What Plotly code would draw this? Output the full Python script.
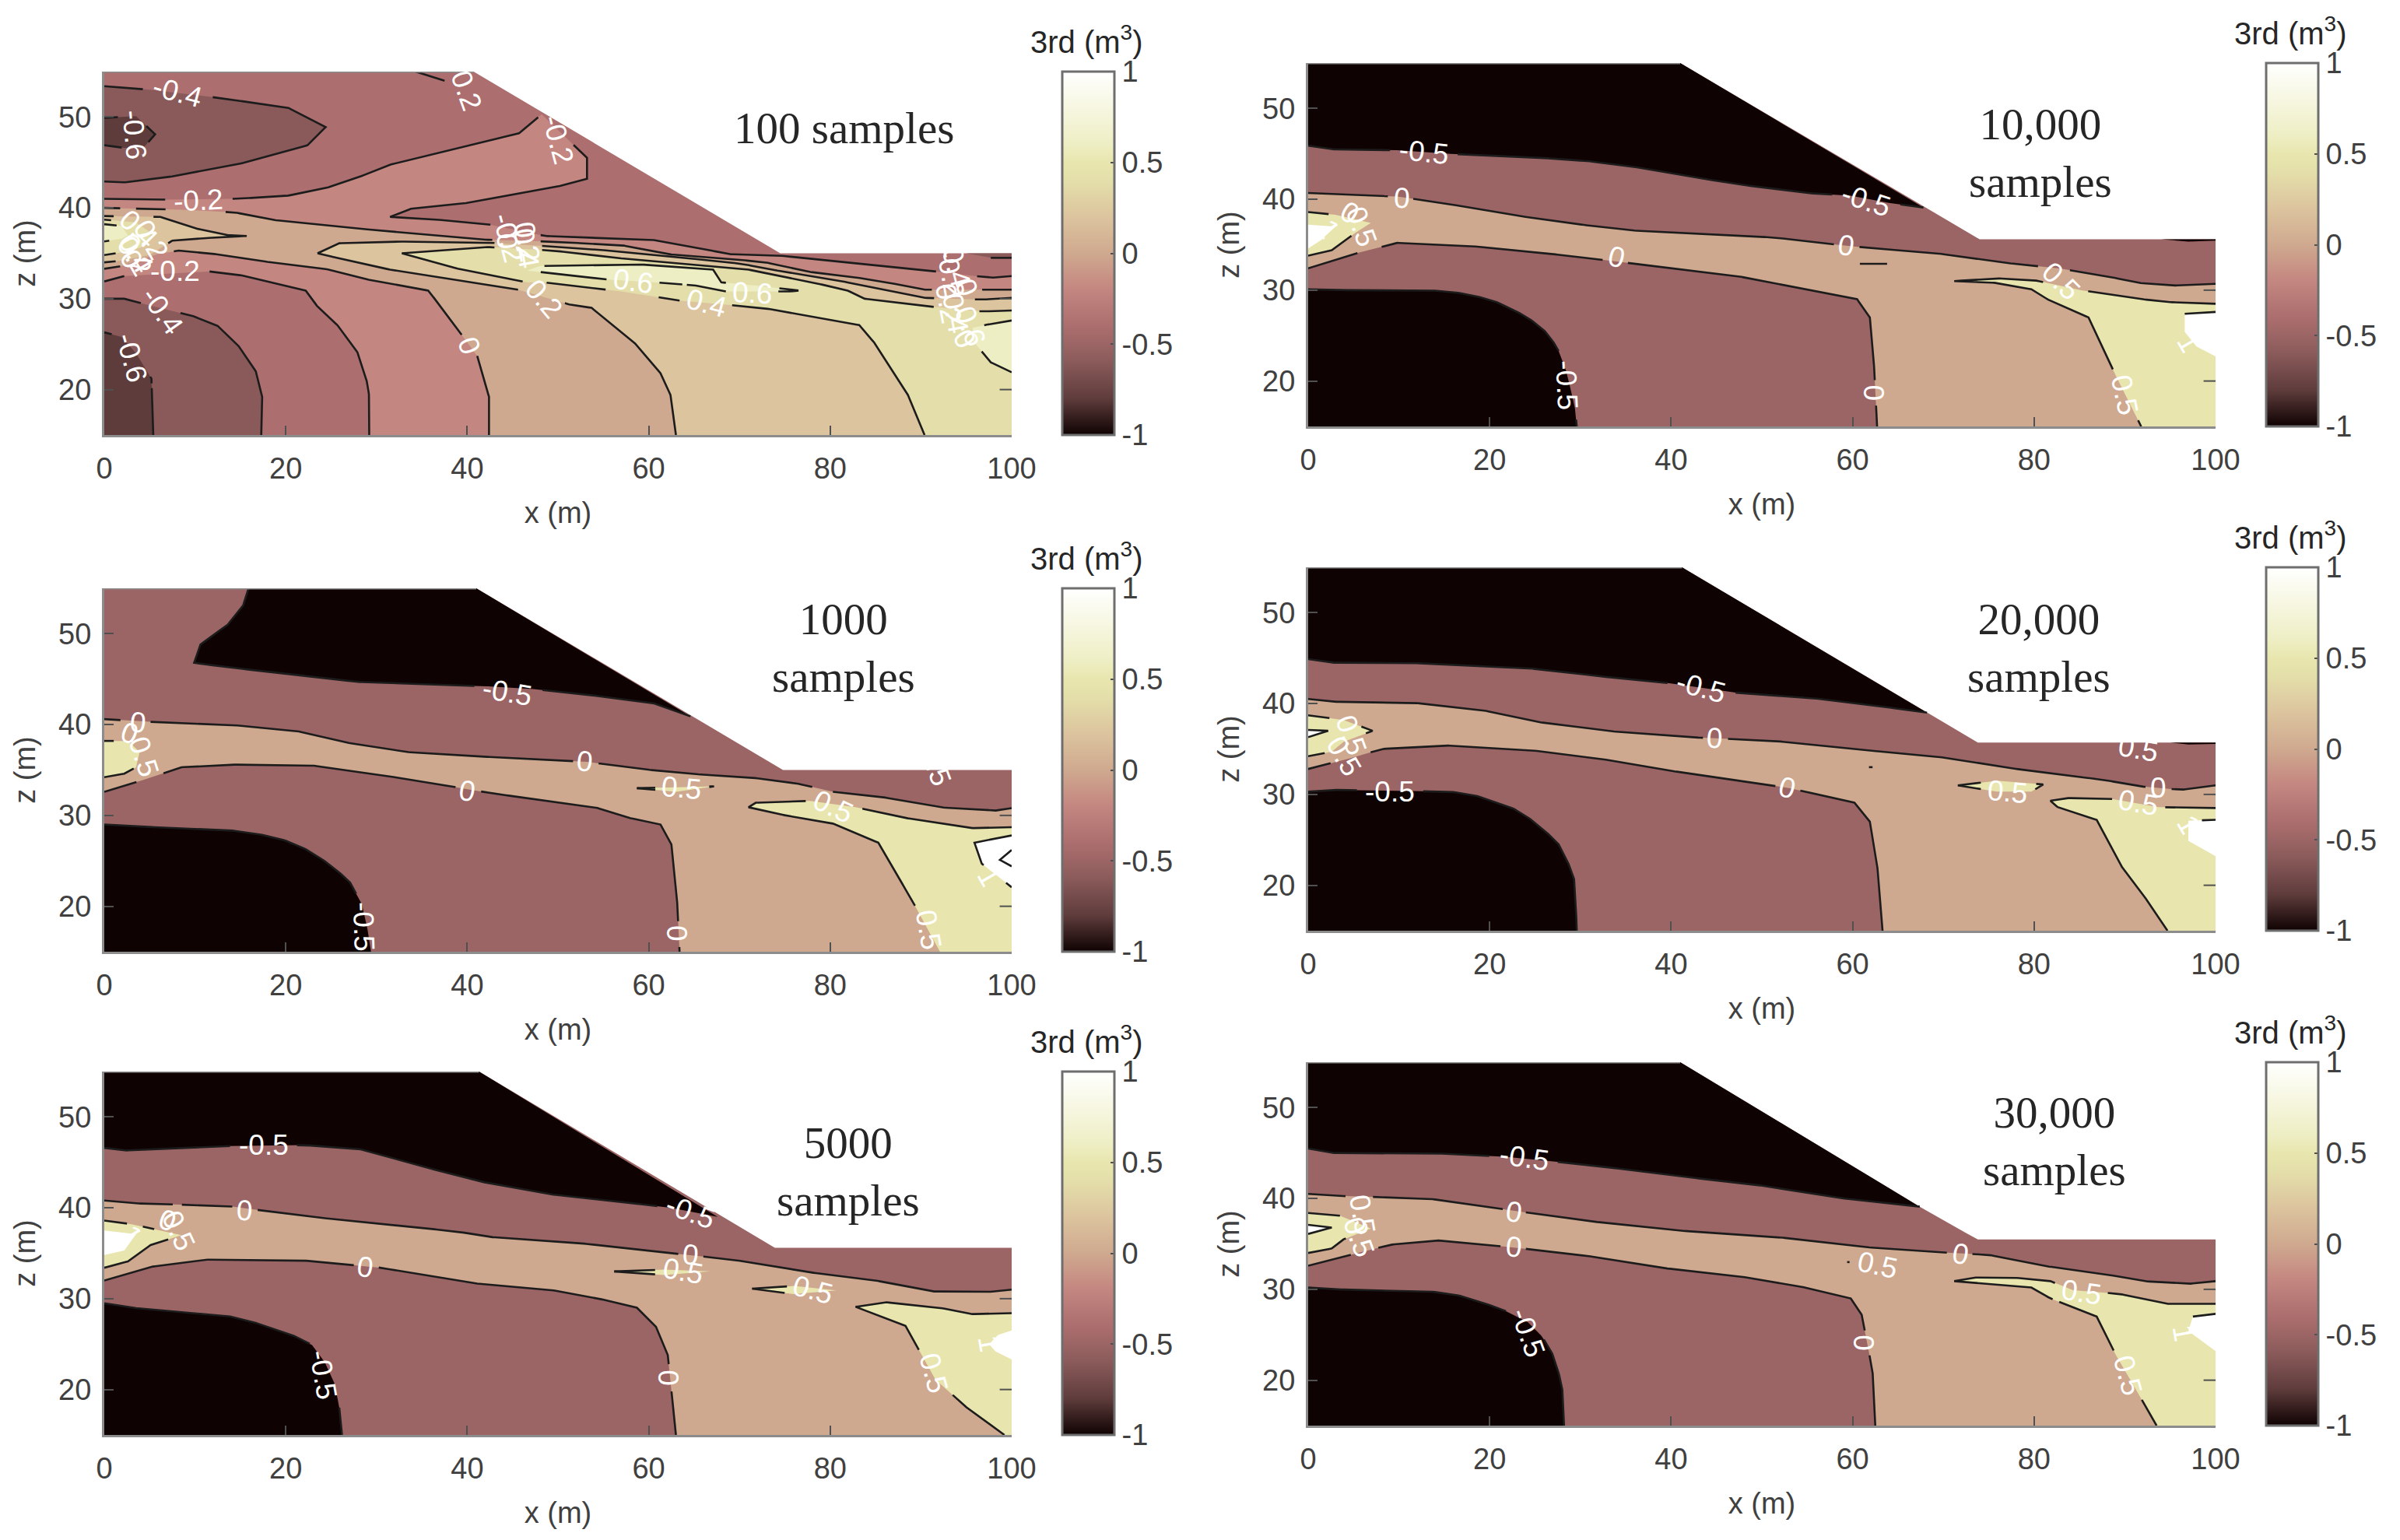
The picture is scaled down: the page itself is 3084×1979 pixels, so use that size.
import plotly.graph_objects as go
import math

# ---------- colour bar (levels -> colours) ----------
CBAR_LEVELS = [-1, -0.8, -0.6, -0.5, -0.4, -0.2, 0, 0.2, 0.4, 0.5, 0.6, 1]
CBAR_COLORS = ["#0f0202", "#5f3c3c", "#8a5a5a", "#9c6565", "#ac6e6e", "#c48680",
               "#cfa98f", "#dcc49e", "#e4dfaa", "#e8e6ae", "#eeeec4", "#ffffff"]
CBAR_TICKS = [-1, -0.5, 0, 0.5, 1]
CBAR_TICKTEXT = ["-1", "-0.5", "0", "0.5", "1"]
X_TICKS = [0, 20, 40, 60, 80, 100]
Z_TICKS = [20, 30, 40, 50]
Z_TICKS_RIGHT = [20, 30]

# ---------- panel 1: 100 samples (contours every 0.2) ----------
P1_DOMAIN = [(0, 55), (40.7, 55), (74.5, 35), (100, 35), (100, 15), (0, 15)]
P1_TOPDARK = [(0, 53.4), (5, 53), (12.7, 52.1), (20.3, 51), (24.4, 48.9), (22.4, 46.9), (16.1, 45.1), (8.5, 43.6), (2.6, 42.8), (0, 42.9)]
P1_TOPDARKER = [(0, 49.9), (3.5, 50.1), (5.6, 48.1), (4.3, 46.6), (2.2, 46.6), (0, 46.9)]
P1_SHORT = [(34.3, 55), (37.5, 54)]
P1_CORNER = [(97.7, 34.5), (100, 34.5)]
P1_M02_UP = [(0, 41), (6.2, 40.9), (14.4, 41), (20, 41.3), (24.2, 42.1), (27.6, 43.2), (31.3, 44.7), (38.9, 46.6), (45.7, 48.2), (48.2, 50.3)]
P1_M02_MID = [(53.2, 45.5), (53.2, 43.2), (50.7, 42.5), (40.6, 40.6), (33.8, 39.9), (31.5, 39), (35.6, 38.8), (42.3, 38.2), (48.6, 36.9), (60.3, 36.5), (65.5, 35.6), (68.8, 34.9), (73.9, 34.8), (80.7, 34.1), (89.9, 33.2), (97.7, 32.3), (100, 32.5)]
P1_M02_LOW = [(29.2, 15), (29.2, 19.2), (29, 20.7), (27.9, 24.1), (25.9, 26.9), (23.6, 29), (22.2, 30.9), (19.7, 31.5), (15.7, 32.5), (11.6, 33), (2.2, 32.5), (0, 31.9)]
P1_M04_LOW = [(17.3, 15), (17.4, 19.2), (16.7, 22), (15, 24.6), (12.5, 27), (10.1, 28), (3.3, 29.7), (2.2, 30), (0, 30)]
P1_M06_LOW = [(5.4, 15), (5.2, 21.2), (3.5, 24), (1.9, 25.8), (0, 26.3)]
P1_0_UP = [(0, 40), (8.5, 39.8), (14.4, 39.5), (18.4, 38.7), (24.9, 38), (31.5, 37.4), (38, 36.8), (42, 36.5), (48.6, 36.3), (57, 35.9), (62, 34.9), (68.8, 34.4), (72.9, 34), (77.3, 33), (81.7, 32.5), (85.8, 31.9), (90.2, 31), (97, 31), (100, 31)]
P1_0_LOW = [(42.4, 15), (42.4, 19.2), (41.1, 23.7), (39.7, 25.6), (37.5, 28.6), (35.7, 30.9), (29.9, 31.9), (24.9, 33.2), (19, 33.9), (13.4, 34.8), (8.2, 35.3), (5.8, 34.9), (2, 33.6), (0, 33.3)]
P1_02_LOBE = [(0, 39.1), (6.2, 39), (9.8, 37.8), (13.4, 37), (15.7, 36.9), (13, 36.8), (7.5, 36.4), (5, 34.8), (2, 34.2), (0, 34)]
P1_04_LOBE = [(0, 38.7), (3.5, 38.4), (5.2, 37.2), (4.5, 35.8), (2.5, 35.2), (0, 34.8)]
P1_06_LOBE = [(0, 38.2), (1.9, 38), (2.6, 37), (1.9, 36.6), (0, 36.3)]
P1_02_UP = [(23.5, 35), (25.9, 36.1), (31.5, 36.3), (42, 36.2), (48.5, 35.8), (53.5, 35.5), (60.3, 34.8), (67.1, 34.2), (70.5, 33.8), (72.9, 33.3), (77.3, 32.6), (81.4, 31.9), (85.8, 31), (90.2, 30.1), (96.7, 29.9), (100, 30.1)]
P1_02_LOW = [(63, 15), (62.4, 19.4), (61.3, 21.8), (58.7, 24.9), (53.7, 29), (51.5, 29.3), (45.6, 31), (39.7, 31.9), (35.7, 32.5), (31.5, 33.2), (28.2, 33.9), (23.5, 35)]
P1_04_UP = [(32.8, 35), (42, 35.7), (49.5, 35.3), (55.2, 34.6), (62, 34), (70.5, 33.3), (75.6, 32.3), (81.7, 31), (83.8, 30), (90.4, 29.2), (96.7, 28.6), (100, 28.7)]
P1_04_LOW = [(90.4, 15), (88.7, 19.2), (85, 25), (83.2, 27.1), (73.9, 28.8), (70.2, 29.2), (63.4, 29.8), (57, 30.8), (48.5, 31.8), (46.6, 31.8), (39.7, 33.1), (32.8, 35)]
P1_06_LENS = [(46.6, 33.1), (48, 33.6), (58.7, 33.8), (67.1, 33.2), (68, 31.8), (72.3, 31.4), (76.5, 30.9), (75.8, 30.8), (68.5, 30.8), (65.7, 31.4), (62.2, 31.7), (55.6, 32.1), (46.6, 33.1)]
P1_06_RIGHT = [(100, 27.6), (98, 27.3), (95.7, 26.8), (95.7, 25.4), (97.7, 23), (100, 21.9)]
P1_LABELS = [("-0.4", 8.1, 52.7, 15), ("-0.6", 3.3, 48, 85), ("-0.2", 10.4, 40.8, -3), ("-0.2", 39.7, 53.4, 70),
             ("-0.2", 50, 47.5, 75), ("-0.2", 7.8, 33, 0), ("-0.4", 6.4, 28.7, 55), ("-0.6", 3, 23.5, 75),
             ("0", 40.2, 24.8, 70), ("0.2", 48.4, 30, 50), ("0.6", 58.3, 31.9, 8), ("0.4", 66.3, 29.5, 15),
             ("0.6", 71.4, 30.6, 3), ("-0.2", 44.5, 36.7, 75), ("0", 44.4, 36.3, 85), ("0.2", 46.6, 36.3, 80),
             ("0.4", 46.5, 35.6, 80), ("0.2", 5.1, 36.5, 60), ("0.4", 3.7, 37.7, 45), ("0", 3, 34.3, 60),
             ("0.2", 3.3, 34.7, 60), ("0.4", 3.5, 35, 60), ("-0.4", 93.8, 34, 75), ("-0.2", 93.3, 32.8, 80),
             ("0", 95, 31.2, 70), ("0.2", 93, 29.5, 80), ("0.4", 93.8, 28.4, 80), ("0.6", 95.4, 27, 70), ("0", 94.8, 25.6, 60)]

# ---------- panel 2: 10,000 samples ----------
P2_DOMAIN = [(0, 55), (41, 55), (74, 35.6), (100, 35.6), (100, 15), (0, 15)]
P2_M05_UP = [(0, 45.9), (2.6, 45.5), (9.8, 45.4), (15.7, 45), (23.4, 44.7), (30, 44.3), (35.2, 43.7), (40.3, 42.8), (47, 41.7), (54.7, 40.7), (59.8, 40.4), (64, 39.6), (67.8, 39.1)]
P2_0_UP = [(0, 40.7), (4.7, 40.5), (9.8, 40.3), (14.9, 39.6), (21.7, 38.4), (28.5, 37.4), (35.2, 36.6), (42.8, 36.2), (51.3, 35.8), (56.4, 35.2), (62.3, 34.6), (69, 34.1), (75.9, 33.1), (82.7, 32.4), (87.7, 31.6), (91.5, 30.8), (95.3, 30.5), (100, 30.7)]
P2_0_LOW = [(0, 32.4), (4.7, 33.9), (9.8, 35.2), (17.4, 34.9), (25, 34.2), (32.7, 33.3), (40.3, 32.4), (47, 31.6), (53.9, 30.3), (60.5, 29), (61.9, 27), (62.3, 22.9), (62.7, 15)]
P2_M05_LOW = [(0, 30.1), (2.6, 30), (13.2, 30), (16, 29.8), (18.3, 29.4), (20.5, 28.8), (22.5, 27.9), (24.3, 26.9), (25.9, 25.7), (26.9, 24.5), (27.6, 23.3), (28.4, 21.2), (28.9, 19.2), (29.4, 17), (29.6, 15)]
P2_05_RIGHT = [(91.8, 15), (89, 20.6), (86, 27), (81.8, 28.8), (79.7, 30.1), (75.9, 30.8), (71.2, 31), (75.9, 31.3), (80, 31.1), (85.2, 30), (90.3, 29.2), (94.5, 28.7), (100, 28.5)]
P2_1_RIGHT = [(100, 27.6), (96.6, 27.4), (96.6, 25.4), (97.9, 23.8), (100, 22.7)]
P2_05_LEFT = [(0, 38.6), (3, 38.3), (6.9, 37.4), (5.2, 36.3), (2.6, 34.4), (0, 33.8)]
P2_1_LEFT = [(0, 37.2), (3, 37), (1.4, 35.5), (0, 34.6)]
P2_DASH = [(60.8, 32.9), (63.8, 32.9)]
P2_SLIVER = [(94, 35.6), (97, 35.35), (100, 35.45), (100, 35.6)]
P2_LABELS = [("-0.5", 12.8, 45.2, 6), ("0", 10.3, 40.1, 3), ("0", 4.6, 38.5, 30), ("0.5", 5.9, 37, 70), ("0", 34, 33.6, 14),
             ("-0.5", 61.5, 39.9, 18), ("0", 59.3, 34.9, 10), ("0.5", 83, 31, 45), ("-0.5", 28.5, 19.5, 87),
             ("0", 62.3, 18.7, 90), ("0.5", 90, 18.5, 78), ("1", 97, 24.2, 60), ("1", 2.2, 36.7, 60)]

# ---------- panel 3: 1000 samples ----------
P3_DOMAIN = [(0, 55), (41, 55), (74.8, 35), (100, 35), (100, 15), (0, 15)]
P3_M05_EDGE = [(64.6, 40.9), (60.8, 42.3), (55.8, 43), (47.3, 43.9), (42.3, 44.2), (35.5, 44.4), (27.9, 44.7), (20.3, 45.6), (13.6, 46.3), (9.9, 46.8), (10.6, 48.8), (11.5, 49.5), (13.6, 51), (15.3, 53.1), (15.9, 55)]
P3_0_UP = [(0, 40.6), (5.1, 40.3), (13.6, 40), (21.2, 39.3), (26.2, 38.1), (33, 37), (38.9, 36.6), (47.3, 36.2), (53.2, 35.9), (58.3, 35.2), (64.2, 34.6), (71, 34.2), (76, 33.6), (80.3, 32.6), (85.3, 32.1), (92, 30.9), (98, 30.5), (100, 30.8)]
P3_0_LOW = [(0, 32.6), (4.3, 33.9), (8.5, 35.3), (13.6, 35.6), (22.9, 35.5), (29.6, 34.6), (36.4, 33.5), (42.3, 32.5), (47.3, 31.8), (54.1, 30.9), (57.5, 29.8), (61.3, 29), (62.5, 26.8), (63.1, 21.2), (63.4, 15)]
P3_M05_LOW = [(0, 29), (3, 28.8), (13.6, 28.4), (16.7, 28), (19.5, 27.4), (21.8, 26.5), (23.7, 25.4), (25.6, 24), (27.1, 22.6), (28.4, 20.2), (29, 17.5), (29.4, 15)]
P3_05_RIGHT = [(92.1, 15), (89.1, 20.5), (85.3, 27), (80.3, 29.1), (76, 29.8), (71, 30.9), (71.8, 31.4), (77.8, 31.6), (82.8, 30.9), (87.8, 29.8), (95.4, 28.6), (100, 28.7)]
P3_1_RIGHT = [(100, 27.8), (95.9, 27), (96.7, 24.7), (100, 22.1)]
P3_1_INNER = [(100, 26.2), (98.7, 25.1), (100, 24.4)]
P3_05_LEFT = [(0, 38.2), (2.6, 38.2), (3.9, 37), (3.5, 35.3), (2.2, 34.6), (0, 34.2)]
P3_05_LENS = [(58.7, 33), (63, 33.1), (67.2, 33.2), (63, 32.6), (58.7, 33)]
P3_LABELS = [("-0.5", 44.4, 43.6, 10), ("0", 3.7, 40.2, 5), ("0", 2.8, 39, 20), ("0.5", 4.3, 36.5, 72), ("0", 53, 35.9, 6),
             ("0", 40, 32.7, 10), ("0.5", 63.6, 33, 5), ("0.5", 80.3, 31, 25), ("-0.5", 28.6, 17.7, 88), ("0", 63.1, 17, 90),
             ("0.5", 90.8, 17.4, 80), ("0.5", 91.6, 35.5, 70), ("1", 97.5, 23.2, 60)]

# ---------- panel 4: 20,000 samples ----------
P4_DOMAIN = [(0, 55), (41.2, 55), (73.8, 35.7), (100, 35.7), (100, 15), (0, 15)]
P4_M05_UP = [(0, 44.9), (2.6, 44.5), (10.7, 44.5), (17.4, 44.2), (24.2, 43.9), (31, 43.1), (38.6, 42.4), (47.1, 41.2), (54.7, 40.7), (61.5, 39.9), (68.2, 39)]
P4_0_UP = [(0, 40.5), (2.6, 40.2), (11.5, 40.1), (19.1, 39.3), (25.1, 38), (32.7, 37), (42, 36.3), (51.3, 35.9), (59.8, 35), (69.1, 34.2), (75.9, 33.1), (81.8, 32.3), (87.7, 31.6), (91.5, 30.9), (96.2, 30.5), (100, 31)]
P4_0_LOW = [(0, 32.8), (4.7, 34), (8.1, 35), (14.9, 35.4), (24.2, 34.9), (31.8, 34), (38.6, 32.8), (46.2, 31.7), (53, 30.7), (60.2, 29.1), (61.9, 27), (62.7, 22.4), (63.3, 15)]
P4_M05_LOW = [(0, 30.3), (2.6, 30.5), (15.7, 30.3), (18.4, 29.9), (20.8, 29.1), (22.7, 28.4), (24.2, 27.5), (26.1, 26), (27.6, 24.5), (28.6, 22.6), (29.3, 20.7), (29.5, 18), (29.6, 15)]
P4_05_RIGHT = [(94.7, 15), (92.8, 17.9), (89.8, 21.8), (86.9, 27.2), (82.6, 28.6), (81.8, 29.3), (83.5, 29.6), (88.6, 29.5), (93.7, 28.6), (100, 28.5)]
P4_1_RIGHT = [(100, 27.2), (97, 27.1), (97, 24.9), (100, 23.2)]
P4_05_LEFT = [(0, 38.7), (3.9, 38.2), (7.1, 37), (3.9, 35.8), (2.6, 34.7), (0, 34.2)]
P4_1_LEFT = [(0, 37.1), (2.2, 37), (0, 36.3)]
P4_05_LENS = [(71.6, 31), (75.9, 31.5), (81, 31.1), (79.7, 30.3), (75.9, 30.3), (71.6, 31)]
P4_DOT = [(61.8, 33), (62.2, 33)]
P4_SLIVER = [(95, 35.7), (97, 35.5), (100, 35.55), (100, 35.7)]
P4_LABELS = [("-0.5", 43.3, 41.8, 15), ("0", 44.8, 36.2, 3), ("0", 52.8, 30.7, 15), ("-0.5", 9, 30.3, 0), ("0.5", 77.1, 30.3, 5),
             ("0", 93.7, 30.7, 0), ("0.5", 91.5, 29.1, 10), ("0.5", 91.5, 35, 10), ("0.5", 4.7, 36.5, 70), ("0.5", 3.9, 34.2, 60),
             ("1", 97, 26.7, 60)]

# ---------- panel 5: 5000 samples ----------
P5_DOMAIN = [(0, 55), (41.3, 55), (73.9, 35.6), (100, 35.6), (100, 15), (0, 15)]
P5_M05_UP = [(0, 46.6), (2.2, 46.3), (13.6, 46.8), (22, 46.9), (28, 46.5), (33, 45.1), (41.4, 42.9), (49, 41.5), (55.8, 40.8), (62.5, 40), (67.6, 39)]
P5_0_UP = [(0, 40.8), (3, 40.5), (13.6, 40.2), (22, 39.1), (30.5, 38.2), (38.9, 37.4), (42.3, 36.8), (51.6, 36.2), (62.5, 35), (69.3, 34.3), (76.9, 33), (84.5, 32.1), (91.2, 30.8), (97.1, 30.7), (100, 31)]
P5_0_LOW = [(0, 32), (5.1, 33.5), (11.1, 34.3), (22, 34.2), (30.5, 33.4), (40.6, 31.7), (49, 31), (54.1, 30.1), (58.7, 29), (60.8, 26.9), (62.1, 23.8), (63, 15)]
P5_M05_LOW = [(0, 29.5), (3, 29), (13.6, 28.1), (16.2, 27.5), (18.6, 26.7), (20.9, 25.9), (22.9, 24.9), (24.3, 23), (25.4, 20.6), (25.9, 18), (26.2, 15)]
P5_05_RIGHT = [(99.2, 15), (95.4, 17.7), (91.6, 21.1), (88.3, 27), (82.8, 29.1), (86.2, 29.6), (92.1, 29), (95.4, 28.3), (100, 28.4)]
P5_1_RIGHT = [(100, 26.5), (98.5, 26), (97.8, 25.3), (97.6, 24.9), (98.2, 24.2), (100, 23.3)]
P5_05_LEFT = [(0, 38.6), (3, 38.2), (8.5, 37), (5.1, 35.9), (2.6, 34.1), (0, 33.4)]
P5_1_LEFT = [(0, 37.5), (3.5, 37.1), (2.2, 35.3), (0, 34.8)]
P5_05_LENS_A = [(56.2, 33), (61.7, 33.2), (66.8, 33), (61.7, 32.6), (56.2, 33)]
P5_05_LENS_B = [(71.4, 31.1), (76, 31.4), (80.7, 30.9), (76, 30.5), (71.4, 31.1)]
P5_LABELS = [("-0.5", 17.6, 46.9, 0), ("0", 15.5, 39.7, 3), ("0", 7, 38.6, 20), ("0.5", 8.2, 37.5, 65), ("0", 28.8, 33.5, 8),
             ("-0.5", 64.6, 39.5, 20), ("0", 64.6, 34.8, 5), ("0.5", 63.8, 33, 10), ("0.5", 78.1, 31, 15),
             ("0", 62.1, 21.3, 90), ("-0.5", 24.1, 21.6, 80), ("0.5", 91.4, 21.8, 75), ("1", 97.5, 25, 80), ("1", 3, 37, 60)]

# ---------- panel 6: 30,000 samples ----------
P6_DOMAIN = [(0, 55), (41, 55), (67.4, 39.1), (72.5, 36.2), (73.8, 35.5), (100, 35.5), (100, 15), (0, 15)]
P6_M05_UP = [(0, 45.5), (2.6, 45), (13.2, 45), (21.7, 44.6), (31.8, 43.6), (40.3, 42.5), (48.8, 41.6), (58.1, 40.1), (67.4, 39.1)]
P6_0_UP = [(0, 40.5), (2.6, 40.3), (13.2, 40), (21.7, 38.8), (30.1, 37.6), (40.3, 36.5), (51.3, 35.8), (60.6, 34.7), (69.1, 34.1), (75, 33.8), (80.9, 32.6), (87.7, 31.7), (92, 30.9), (97, 30.6), (100, 30.9)]
P6_0_LOW = [(0, 32.6), (4.7, 33.8), (9, 34.9), (14.1, 35.4), (21.7, 34.7), (30.1, 33.8), (38.6, 32.4), (47.1, 31.5), (53.9, 30.4), (59.8, 29), (61, 27.2), (62.2, 21), (62.5, 15)]
P6_M05_LOW = [(0, 30.2), (2.6, 30), (13.2, 29.8), (16.3, 29.4), (19.1, 28.6), (21.8, 27.6), (24.2, 26.4), (25.7, 24.9), (26.8, 23.2), (27.5, 21.2), (28, 19.2), (28.2, 15)]
P6_05_RIGHT = [(93.5, 15), (91.5, 18.5), (89, 22.8), (86.9, 27), (81.8, 29), (79.7, 30.2), (75, 30.6), (71.2, 30.9), (73.3, 31.3), (77.6, 31.3), (81.8, 30.9), (84.3, 29.9), (89.4, 29.5), (94.5, 28.4), (100, 28.4)]
P6_1_RIGHT = [(100, 27.3), (97.5, 27), (97, 25.4), (100, 23.2)]
P6_05_LEFT = [(0, 38.4), (3.5, 38.1), (6.9, 36.7), (3.9, 35.5), (2.6, 34.5), (0, 34)]
P6_1_LEFT = [(0, 37.1), (2.6, 36.8), (0, 36.1)]
P6_DASH = [(59.4, 33), (62.3, 33)]
P6_LABELS = [("-0.5", 23.8, 44.5, 8), ("0", 22.7, 38.5, 8), ("0", 22.7, 34.7, 5), ("0.5", 6, 38.2, 80), ("0.5", 5.6, 35.8, 70),
             ("0.5", 62.7, 32.7, 12), ("0", 71.9, 33.9, 10), ("0.5", 85.2, 29.7, 8), ("-0.5", 24.2, 25.2, 70),
             ("0", 61.2, 24.1, 90), ("0.5", 90.3, 20.5, 75), ("1", 96.4, 25.2, 80)]

# ---------- panel text ----------
P1_TITLE = "100 samples"
P2_TITLE = "10,000<br>samples"
P3_TITLE = "1000<br>samples"
P4_TITLE = "20,000<br>samples"
P5_TITLE = "5000<br>samples"
P6_TITLE = "30,000<br>samples"
CBAR_TITLE = "3rd (m<sup>3</sup>)"


def rev(p):
    return list(reversed(p))


# Each panel: filled regions back to front as (level, outline), contour lines, labels.
PANELS = [
    dict(title=P1_TITLE, labels=P1_LABELS, domain=P1_DOMAIN, top=92, left=134, tx=1084, ty=165,
         regions=[(-0.4, P1_DOMAIN), (-0.6, P1_TOPDARK), (-0.8, P1_TOPDARKER),
                  (-0.6, [(95, 35), (100, 35)] + rev(P1_CORNER)),
                  (-0.2, P1_M02_UP + P1_M02_MID + [(100, 15)] + P1_M02_LOW),
                  (-0.6, P1_M04_LOW + [(0, 15)]), (-0.8, P1_M06_LOW + [(0, 15)]),
                  (0, P1_0_UP + [(100, 15)] + P1_0_LOW), (0.2, P1_02_LOBE), (0.4, P1_04_LOBE), (0.6, P1_06_LOBE),
                  (0.2, P1_02_UP + [(100, 15)] + P1_02_LOW), (0.4, P1_04_UP + [(100, 15)] + P1_04_LOW),
                  (0.6, P1_06_LENS), (0.6, P1_06_RIGHT)],
         lines=[P1_TOPDARK, P1_TOPDARKER, P1_SHORT, P1_CORNER, P1_M02_UP + P1_M02_MID, P1_M02_LOW, P1_M04_LOW, P1_M06_LOW,
                P1_0_UP, P1_0_LOW, P1_02_LOBE, P1_04_LOBE, P1_06_LOBE, P1_02_UP, P1_02_LOW, P1_04_UP, P1_04_LOW,
                P1_06_LENS, P1_06_RIGHT]),
    dict(title=P2_TITLE, labels=P2_LABELS, domain=P2_DOMAIN, top=81, left=1681, tx=2622, ty=196,
         regions=[(-0.5, P2_DOMAIN), (-1, P2_DOMAIN[:2] + rev(P2_M05_UP)), (-1, P2_M05_LOW + [(0, 15)]),
                  (0, P2_0_UP + [(100, 15)] + rev(P2_0_LOW)), (0.5, P2_05_RIGHT + [(100, 15)]), (1, P2_1_RIGHT),
                  (0.5, P2_05_LEFT), (1, P2_1_LEFT), (-1, P2_SLIVER)],
         lines=[P2_M05_UP, P2_0_UP, P2_0_LOW, P2_M05_LOW, P2_05_RIGHT, P2_1_RIGHT[:2], P2_05_LEFT, P2_DASH]),
    dict(title=P3_TITLE, labels=P3_LABELS, domain=P3_DOMAIN, top=756, left=134, tx=1084, ty=832,
         regions=[(-0.5, P3_DOMAIN), (-1, P3_M05_EDGE + [(41, 55)]), (-1, P3_M05_LOW + [(0, 15)]),
                  (0, P3_0_UP + [(100, 15)] + rev(P3_0_LOW)), (0.5, P3_05_RIGHT + [(100, 15)]), (1, P3_1_RIGHT),
                  (0.5, P3_05_LEFT), (0.5, P3_05_LENS)],
         lines=[P3_M05_EDGE, P3_0_UP, P3_0_LOW, P3_M05_LOW, P3_05_RIGHT, P3_1_RIGHT, P3_1_INNER, P3_05_LEFT, P3_05_LENS]),
    dict(title=P4_TITLE, labels=P4_LABELS, domain=P4_DOMAIN, top=729, left=1681, tx=2620, ty=832,
         regions=[(-0.5, P4_DOMAIN), (-1, P4_DOMAIN[:2] + rev(P4_M05_UP)), (-1, P4_M05_LOW + [(0, 15)]),
                  (0, P4_0_UP + [(100, 15)] + rev(P4_0_LOW)), (0.5, P4_05_RIGHT + [(100, 15)]), (1, P4_1_RIGHT),
                  (0.5, P4_05_LEFT), (1, P4_1_LEFT), (0.5, P4_05_LENS), (-1, P4_SLIVER)],
         lines=[P4_M05_UP, P4_0_UP, P4_0_LOW, P4_M05_LOW, P4_05_RIGHT, P4_1_RIGHT[:2], P4_05_LEFT, P4_1_LEFT, P4_05_LENS, P4_DOT]),
    dict(title=P5_TITLE, labels=P5_LABELS, domain=P5_DOMAIN, top=1377, left=134, tx=1090, ty=1505,
         regions=[(-0.5, P5_DOMAIN), (-1, P5_DOMAIN[:2] + rev(P5_M05_UP)), (-1, P5_M05_LOW + [(0, 15)]),
                  (0, P5_0_UP + [(100, 15)] + rev(P5_0_LOW)), (0.5, P5_05_RIGHT + [(100, 15)]), (1, P5_1_RIGHT),
                  (0.5, P5_05_LEFT), (1, P5_1_LEFT), (0.5, P5_05_LENS_A), (0.5, P5_05_LENS_B)],
         lines=[P5_M05_UP, P5_0_UP, P5_0_LOW, P5_M05_LOW, P5_05_RIGHT, P5_05_LEFT, P5_05_LENS_A, P5_05_LENS_B]),
    dict(title=P6_TITLE, labels=P6_LABELS, domain=P6_DOMAIN, top=1365, left=1681, tx=2640, ty=1466,
         regions=[(-0.5, P6_DOMAIN), (-1, P6_DOMAIN[:2] + rev(P6_M05_UP)), (-1, P6_M05_LOW + [(0, 15)]),
                  (0, P6_0_UP + [(100, 15)] + rev(P6_0_LOW)), (0.5, P6_05_RIGHT + [(100, 15)]), (1, P6_1_RIGHT),
                  (0.5, P6_05_LEFT), (1, P6_1_LEFT)],
         lines=[P6_M05_UP, P6_0_UP, P6_0_LOW, P6_M05_LOW, P6_05_RIGHT, P6_1_RIGHT[:2], P6_05_LEFT, P6_1_LEFT, P6_DASH]),
]

# ---------- layout constants (pixels) ----------
W, H = 3084, 1979
PW, PH = 1166, 467
CB_OFFSET, CB_W = 1231, 67
FONT = "Liberation Sans"
SERIF = "Liberation Serif"
TICK_COL = "#404040"
LINE_COL = "#1c1c1c"
EDGE_COL = "#8c8c8c"
COLOR_OF = dict(zip(CBAR_LEVELS, CBAR_COLORS))
CSCALE = [[(v + 1) / 2, c] for v, c in zip(CBAR_LEVELS, CBAR_COLORS)]


def cut_line(pts, labels):
    """Break a contour line where a label sits on it, as clabel does."""
    xs, zs = [], []
    for (x0, z0), (x1, z1) in zip(pts[:-1], pts[1:]):
        n = max(2, int(math.hypot(x1 - x0, z1 - z0) / 0.25))
        for i in range(n + 1):
            x, z = x0 + (x1 - x0) * i / n, z0 + (z1 - z0) * i / n
            hidden = False
            for text, lx, lz, rot in labels:
                a = math.radians(rot)
                u = (x - lx) * math.cos(a) - (z - lz) * math.sin(a)
                v = (x - lx) * math.sin(a) + (z - lz) * math.cos(a)
                if abs(u) < len(text) * 0.78 + 0.5 and abs(v) < 1.4:
                    hidden = True
                    break
            xs.append(None if hidden else x)
            zs.append(None if hidden else z)
    return xs, zs


fig = go.Figure()
annotations = []
layout = {}
for k, p in enumerate(PANELS):
    n = "" if k == 0 else str(k + 1)
    xa, ya = "x" + n, "y" + n
    for level, outline in p["regions"]:
        fig.add_trace(go.Scatter(x=[q[0] for q in outline], y=[q[1] for q in outline], mode="none", fill="toself",
                                 fillcolor=COLOR_OF[level], xaxis=xa, yaxis=ya, showlegend=False, hoverinfo="skip"))
    for line in p["lines"]:
        xs, zs = cut_line(line, p["labels"])
        fig.add_trace(go.Scatter(x=xs, y=zs, mode="lines", line=dict(color=LINE_COL, width=2.6),
                                 xaxis=xa, yaxis=ya, showlegend=False, hoverinfo="skip", connectgaps=False))
    # top edge of the box, over the part of the section that reaches it
    fig.add_trace(go.Scatter(x=[q[0] for q in p["domain"][:2]], y=[q[1] for q in p["domain"][:2]], mode="lines",
                             line=dict(color=EDGE_COL, width=3), xaxis=xa, yaxis=ya, showlegend=False, hoverinfo="skip",
                             cliponaxis=False))
    # mirrored z ticks on the right-hand side of the box
    fig.add_trace(go.Scatter(x=[100] * len(Z_TICKS_RIGHT), y=Z_TICKS_RIGHT, mode="markers",
                             marker=dict(symbol="line-ew", size=22, line=dict(color="#505050", width=2)),
                             xaxis=xa, yaxis=ya, showlegend=False, hoverinfo="skip"))
    left, top = p["left"], p["top"]
    cb_left = left + CB_OFFSET
    fig.add_trace(go.Scatter(
        x=[0, 0], y=[15, 15], mode="markers", xaxis=xa, yaxis=ya, showlegend=False, hoverinfo="skip",
        marker=dict(size=1, opacity=0, color=[-1, 1], cmin=-1, cmax=1, colorscale=CSCALE,
                    colorbar=dict(x=cb_left / W, xanchor="left", xpad=0, y=1 - top / H, yanchor="top", ypad=0,
                                  lenmode="pixels", len=PH, thicknessmode="pixels", thickness=CB_W,
                                  outlinecolor="#6e6e6e", outlinewidth=3, ticks="inside", ticklen=6,
                                  tickcolor="#505050", tickwidth=2, tickvals=CBAR_TICKS, ticktext=CBAR_TICKTEXT,
                                  tickfont=dict(family=FONT, size=38, color=TICK_COL)))))
    axis = dict(showgrid=False, zeroline=False, ticks="inside", ticklen=12, tickwidth=2, tickcolor="#505050",
                showline=True, linecolor=EDGE_COL, linewidth=3, mirror=False,
                tickfont=dict(family=FONT, size=38, color=TICK_COL))
    layout["xaxis" + n] = dict(axis, domain=[left / W, (left + PW) / W], range=[0, 100], anchor=ya, tickvals=X_TICKS,
                               ticklabelstandoff=7,
                               title=dict(text="x (m)", font=dict(family=FONT, size=38, color=TICK_COL), standoff=24))
    layout["yaxis" + n] = dict(axis, domain=[1 - (top + PH) / H, 1 - top / H], range=[15, 55], anchor=xa, tickvals=Z_TICKS,
                               ticklabelstandoff=6,
                               title=dict(text="z (m)", font=dict(family=FONT, size=38, color=TICK_COL), standoff=18))
    for text, lx, lz, rot in p["labels"]:
        annotations.append(dict(x=lx, y=lz, xref=xa, yref=ya, text=text, showarrow=False, textangle=rot,
                                font=dict(family=FONT, size=37, color="white")))
    annotations.append(dict(x=p["tx"] / W, y=1 - p["ty"] / H, xref="paper", yref="paper", text=p["title"], showarrow=False,
                            xanchor="center", yanchor="middle",
                            font=dict(family=SERIF, size=57, color="#262626"), align="center"))
    annotations.append(dict(x=(cb_left + CB_W / 2 - 3) / W, y=1 - (top - 14) / H, xref="paper", yref="paper", text=CBAR_TITLE,
                            showarrow=False, xanchor="center", yanchor="bottom",
                            font=dict(family=FONT, size=40, color="#262626")))

fig.update_layout(width=W, height=H, autosize=False, margin=dict(l=0, r=0, t=0, b=0, autoexpand=False), paper_bgcolor="white",
                  plot_bgcolor="white", showlegend=False, annotations=annotations, **layout)
fig.write_html("out.html", config={"displayModeBar": False}, post_script="document.body.style.margin='0';")
